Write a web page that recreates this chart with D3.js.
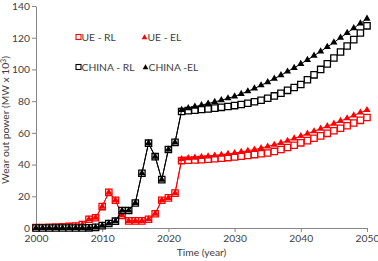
<!DOCTYPE html>
<html>
<head>
<meta charset="utf-8">
<script src="https://cdn.jsdelivr.net/npm/d3@7"></script>
<style>
  body { margin: 0; background: #fff; }
  text { font-family: Lato, "Open Sans", sans-serif; }
</style>
</head>
<body>
<svg id="chart" width="378" height="261"></svg>
<script>
// years on the x axis
const years = d3.range(2000, 2051);

// series values (MW x 10^3), one per year 2000..2050
const ueRL = [0.2, 0.3, 0.4, 0.6, 0.8, 1.0, 1.3, 2.2, 5.5, 6.5,
  13.5, 22.5, 17.5, 8, 4.5, 4.5, 4.5, 5.5, 9, 17.5,
  19, 22, 42.5, 42.7, 42.9, 43.1, 43.4, 43.7, 44.0, 44.4,
  44.8, 45.3, 45.8, 46.3, 46.8, 47.3, 48.3, 49.5, 50.8, 52.2,
  53.7, 55.1, 56.6, 58.1, 59.7, 61.3, 62.9, 64.5, 66.2, 67.9,
  69.7];
const ueEL = [0.2, 0.3, 0.4, 0.6, 0.8, 1.0, 1.3, 2.2, 5.5, 6.5,
  13.5, 22.5, 17.5, 8, 4.5, 4.5, 4.5, 5.5, 9, 17.5,
  19, 22, 43.5, 44, 44.4, 44.8, 45.2, 45.7, 46.2, 46.7,
  47.3, 48, 48.7, 49.5, 50.4, 51.4, 52.5, 53.7, 55, 56.5,
  58, 59.5, 61, 62.6, 64.2, 65.8, 67.5, 69.2, 71, 72.8,
  74.4];
const chinaRL = [0, 0, 0, 0, 0, 0, 0, 0, 0.1, 0.4,
  1.5, 2.8, 4.3, 11, 11, 15.8, 34.5, 53.5, 45, 30.5,
  49.5, 54, 73.5, 74, 74.3, 74.7, 75.1, 75.6, 76.1, 76.6,
  77.2, 77.9, 78.7, 79.6, 80.6, 81.8, 83.3, 85, 86.8, 88.6,
  90.5, 93.5, 96.6, 100, 103.5, 107.2, 111, 114.8, 118.8, 123,
  127.5];
const chinaEL = [0, 0, 0, 0, 0, 0, 0, 0, 0.1, 0.4,
  1.5, 2.8, 4.3, 11, 11, 15.8, 34.5, 53.5, 45, 30.5,
  49.5, 54, 74.5, 75.6, 76.5, 77.5, 78.5, 79.5, 80.6, 81.8,
  83, 84.6, 86.2, 88, 90, 92, 94.2, 96.4, 98.7, 101,
  103.5, 106, 108.7, 111.4, 114.2, 117, 120, 123, 126, 129,
  132];

const xTicks = [2000, 2010, 2020, 2030, 2040, 2050];
const yTicks = [0, 20, 40, 60, 80, 100, 120, 140];

const series = [
  { name: "UE - RL", values: ueRL, color: "#ff0000", shape: "square" },
  { name: "UE - EL", values: ueEL, color: "#ff0000", shape: "triangle" },
  { name: "CHINA - RL", values: chinaRL, color: "#000000", shape: "square" },
  { name: "CHINA -EL", values: chinaEL, color: "#000000", shape: "triangle" }
];

const width = 378, height = 261;
const margin = { top: 6, right: 11, bottom: 33, left: 36 };
const fs = 10.3;

const svg = d3.select("#chart");

const x = d3.scaleLinear()
  .domain([2000, 2050])
  .range([margin.left, width - margin.right]);
const y = d3.scaleLinear()
  .domain([0, 140])
  .range([height - margin.bottom, margin.top]);

// axes
const xAxis = g => g
  .attr("transform", "translate(0," + (height - margin.bottom) + ")")
  .call(d3.axisBottom(x).tickValues(xTicks).tickFormat(d3.format("d")).tickSize(4).tickSizeOuter(0).tickPadding(3));
const yAxis = g => g
  .attr("transform", "translate(" + margin.left + ",0)")
  .call(d3.axisLeft(y).tickValues(yTicks).tickSize(4).tickSizeOuter(0).tickPadding(2));

svg.append("g").call(xAxis);
svg.append("g").call(yAxis);

svg.selectAll(".domain, .tick line").attr("stroke", "#868686");
svg.selectAll(".tick text").attr("fill", "#404040").attr("font-size", fs);

// axis titles
svg.append("text")
  .attr("x", (margin.left + width - margin.right) / 2)
  .attr("y", 256)
  .attr("text-anchor", "middle")
  .attr("font-size", fs)
  .attr("fill", "#404040")
  .text("Time (year)");

const yt = svg.append("text")
  .attr("transform", "translate(9," + 120 + ") rotate(-90)")
  .attr("text-anchor", "middle")
  .attr("font-size", fs)
  .attr("fill", "#404040");
yt.append("tspan").text("Wear out power (MW x 10");
yt.append("tspan").attr("font-size", 7).attr("dy", -3.5).text("3");
yt.append("tspan").attr("dy", 3.5).text(")");

// lines + markers
const line = d3.line()
  .x((d, i) => x(years[i]))
  .y(d => y(d));

const sq = d3.symbol().type(d3.symbolSquare).size(40);
const tri = d3.symbol().type(d3.symbolTriangle).size(22);

series.forEach(s => {
  svg.append("path")
    .datum(s.values)
    .attr("fill", "none")
    .attr("stroke", s.color)
    .attr("stroke-width", 1)
    .attr("d", line);

  const pts = svg.append("g").selectAll("path")
    .data(s.values)
    .join("path")
    .attr("transform", (d, i) => "translate(" + x(years[i]) + "," + y(d) + ")");
  if (s.shape === "square") {
    pts.attr("d", sq).attr("fill", "#fff").attr("stroke", s.color).attr("stroke-width", 1.3);
  } else {
    pts.attr("d", tri).attr("fill", s.color).attr("stroke", "none");
  }
});

// legend
const legendPos = [
  { x: 78, y: 37 }, { x: 144, y: 37 },
  { x: 78, y: 67 }, { x: 145, y: 67 }
];
series.forEach((s, i) => {
  const p = legendPos[i];
  const g = svg.append("g").attr("transform", "translate(" + p.x + "," + p.y + ")");
  if (s.shape === "square") {
    g.append("rect").attr("x", -2).attr("y", -2.5).attr("width", 5).attr("height", 5)
      .attr("fill", "#fff").attr("stroke", s.color).attr("stroke-width", 1.1);
  } else {
    g.append("path").attr("d", d3.symbol().type(d3.symbolTriangle).size(14))
      .attr("transform", "translate(0.5,0.5)").attr("fill", s.color);
  }
  g.append("text")
    .attr("x", 3.5)
    .attr("y", 3.7)
    .attr("font-size", fs)
    .attr("fill", "#404040")
    .text(s.name);
});
</script>
</body>
</html>
